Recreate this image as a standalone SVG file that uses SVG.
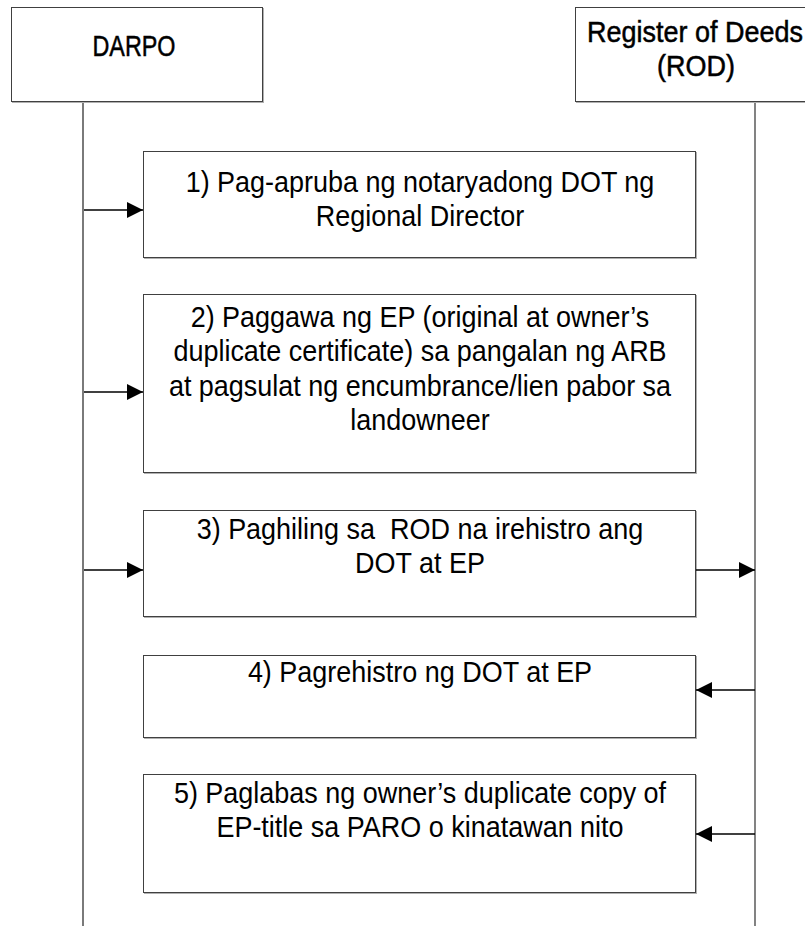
<svg xmlns="http://www.w3.org/2000/svg" width="805" height="926" viewBox="0 0 805 926">
  <style>
    .box { fill: #ffffff; stroke: #404040; stroke-width: 1; }
    .shadow { fill: none; stroke: #b0b0b0; stroke-width: 1; }
    .life { stroke: #7a7a7a; stroke-width: 2; }
    .life-r { stroke: #404040; stroke-width: 1.3; }
    .msg { stroke: #000000; stroke-width: 1.6; fill: none; }
    .label { font-family: "Liberation Sans", Arial, sans-serif; font-size: 29px; fill: #000000; text-anchor: middle; }
    .title { stroke: #000000; stroke-width: 0.5; }
  </style>
  <defs>
    <marker id="arrow" viewBox="0 0 16 16" refX="16" refY="8" markerWidth="16" markerHeight="16" markerUnits="userSpaceOnUse" orient="auto">
      <path d="M0,0 L16,8 L0,16 Z" fill="#000000"/>
    </marker>
  </defs>

  <rect width="805" height="926" fill="#ffffff"/>

  <!-- lifelines -->
  <g id="lifelines">
    <line class="life" x1="83" y1="101" x2="83" y2="926"/>
    <line class="life-r" x1="755" y1="101" x2="755" y2="926"/>
  </g>

  <!-- participant headers -->
  <g id="darpo">
    <rect class="shadow" x="12.5" y="8.5" width="251" height="94"/>
    <rect class="box" x="11.5" y="7.5" width="251" height="94"/>
    <text class="label title" x="134" y="56" font-size="28" textLength="83" lengthAdjust="spacingAndGlyphs">DARPO</text>
  </g>
  <g id="rod">
    <rect class="shadow" x="576.5" y="8.5" width="240" height="94"/>
    <rect class="box" x="575.5" y="7.5" width="240" height="94"/>
    <g transform="translate(695 0) scale(0.93 1)">
      <text class="label title" x="0" y="42">Register of Deeds</text>
      <text class="label title" x="1" y="76">(ROD)</text>
    </g>
  </g>

  <!-- steps -->
  <g id="step1">
    <rect class="shadow" x="144.5" y="152.5" width="552" height="106"/>
    <rect class="box" x="143.5" y="151.5" width="552" height="106"/>
    <g transform="translate(420 0) scale(0.93 1)">
      <text class="label" x="0" y="192">1) Pag-apruba ng notaryadong DOT ng</text>
      <text class="label" x="0" y="226">Regional Director</text>
    </g>
  </g>
  <g id="step2">
    <rect class="shadow" x="144.5" y="295.5" width="552" height="178"/>
    <rect class="box" x="143.5" y="294.5" width="552" height="178"/>
    <g transform="translate(420 0) scale(0.93 1)">
      <text class="label" x="0" y="327">2) Paggawa ng EP (original at owner’s</text>
      <text class="label" x="0" y="361">duplicate certificate) sa pangalan ng ARB</text>
      <text class="label" x="0" y="396">at pagsulat ng encumbrance/lien pabor sa</text>
      <text class="label" x="0" y="430">landowneer</text>
    </g>
  </g>
  <g id="step3">
    <rect class="shadow" x="144.5" y="511.5" width="552" height="106"/>
    <rect class="box" x="143.5" y="510.5" width="552" height="106"/>
    <g transform="translate(420 0) scale(0.93 1)">
      <text class="label" x="0" y="539" xml:space="preserve">3) Paghiling sa  ROD na irehistro ang</text>
      <text class="label" x="0" y="573">DOT at EP</text>
    </g>
  </g>
  <g id="step4">
    <rect class="shadow" x="144.5" y="656.5" width="552" height="82"/>
    <rect class="box" x="143.5" y="655.5" width="552" height="82"/>
    <g transform="translate(420 0) scale(0.93 1)">
      <text class="label" x="0" y="682">4) Pagrehistro ng DOT at EP</text>
    </g>
  </g>
  <g id="step5">
    <rect class="shadow" x="144.5" y="775.5" width="552" height="118"/>
    <rect class="box" x="143.5" y="774.5" width="552" height="118"/>
    <g transform="translate(420 0) scale(0.93 1)">
      <text class="label" x="0" y="803">5) Paglabas ng owner’s duplicate copy of</text>
      <text class="label" x="0" y="837">EP-title sa PARO o kinatawan nito</text>
    </g>
  </g>

  <!-- connectors -->
  <g id="connectors">
    <line class="msg" x1="84" y1="210" x2="143" y2="210" marker-end="url(#arrow)"/>
    <line class="msg" x1="84" y1="392" x2="143" y2="392" marker-end="url(#arrow)"/>
    <line class="msg" x1="84" y1="570" x2="143" y2="570" marker-end="url(#arrow)"/>
    <line class="msg" x1="696" y1="570" x2="755" y2="570" marker-end="url(#arrow)"/>
    <line class="msg" x1="755" y1="690" x2="696" y2="690" marker-end="url(#arrow)"/>
    <line class="msg" x1="755" y1="834" x2="696" y2="834" marker-end="url(#arrow)"/>
  </g>
</svg>
